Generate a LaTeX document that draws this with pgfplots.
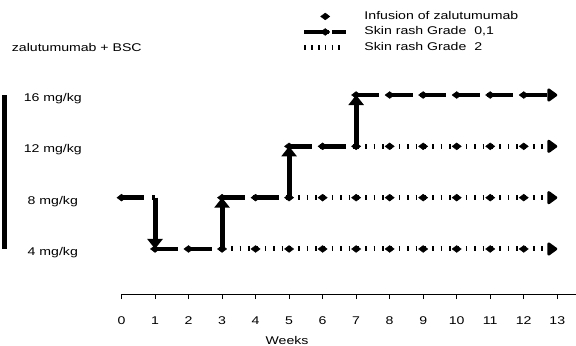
\documentclass[border=0pt]{standalone}
\usepackage{pgfplots}
\pgfplotsset{compat=1.18}
\usetikzlibrary{arrows.meta}
\usepackage{fontspec}
\setmainfont{Liberation Sans}[FakeStretch=1.26]
\begin{document}
\fontsize{11.2bp}{13.4bp}\selectfont
\begin{tikzpicture}
\begin{axis}[
  x=33.52bp, y=12.83bp,
  xmin=0, xmax=13.56, ymin=0.49, ymax=17,
  axis x line=bottom, axis y line=none,
  axis line style={-, line width=1bp, black},
  xtick={0,...,13}, ytick=\empty,
  tick align=outside, major tick length=5bp,
  tick style={line width=1bp, black},
  /pgf/number format/assume math mode=true,
  xticklabel style={anchor=base, yshift=-25bp},
  clip=false,
  legend cell align=left,
  legend style={draw=none, fill=none, inner sep=0pt, outer sep=0pt,
    at={(axis description cs:0.3971,1.3350)}, anchor=north west,
    row sep=5bp, column sep=16bp,
    nodes={inner sep=0pt, text height=8bp, text depth=2.5bp}},
]
% legend images
\addlegendimage{legend image code/.code={
  \begin{scope}[shift={(21bp,0bp)}, rotate=90]\pgfsetplotmarksize{4.6bp}\pgfuseplotmark{diamond*}\end{scope}}}
\addlegendentry{Infusion of zalutumumab}
\addlegendimage{legend image code/.code={
  \draw[line width=4.5bp, dash pattern=on 25bp off 3bp] (0bp,0bp) -- (42bp,0bp);
  \begin{scope}[shift={(21bp,0bp)}, rotate=90]\pgfsetplotmarksize{4.6bp}\pgfuseplotmark{diamond*}\end{scope}}}
\addlegendentry{Skin rash Grade~~0,1}
\addlegendimage{legend image code/.code={
  \draw[line width=5bp, dash pattern=on 1.6bp off 5.2bp] (0.25bp,0bp) -- (36bp,0bp);}}
\addlegendentry{Skin rash Grade~~2}

% dotted (Grade 2) lines
\addplot[forget plot, black, line width=5bp, dash pattern=on 1.6bp off 6.78bp, dash phase=7.58bp,
  -{Triangle[width=15bp,length=11bp,round]}] coordinates {(3,4) (13,4)};
\addplot[forget plot, black, line width=5bp, dash pattern=on 1.6bp off 6.78bp, dash phase=7.58bp,
  -{Triangle[width=15bp,length=11bp,round]}] coordinates {(5,8) (13,8)};
\addplot[forget plot, black, line width=5bp, dash pattern=on 1.6bp off 6.78bp, dash phase=7.58bp,
  -{Triangle[width=15bp,length=11bp,round]}] coordinates {(7,12) (13,12)};

% dashed (Grade 0,1) path
\addplot[forget plot, black, line width=4.5bp, dash pattern=on 26bp off 7.52bp, dash phase=3bp] coordinates {(0,8) (1,8)};
\addplot[forget plot, black, line width=4.5bp, dash pattern=on 26bp off 7.52bp, dash phase=3bp] coordinates {(1,4) (3,4)};
\addplot[forget plot, black, line width=4.5bp, dash pattern=on 26bp off 7.52bp, dash phase=3bp] coordinates {(3,8) (5,8)};
\addplot[forget plot, black, line width=4.5bp, dash pattern=on 26bp off 7.52bp, dash phase=3bp] coordinates {(5,12) (7,12)};
\addplot[forget plot, black, line width=4.5bp, dash pattern=on 26bp off 7.52bp, dash phase=3bp,
  -{Triangle[width=15bp,length=11bp,round]}] coordinates {(7,16) (13,16)};

% vertical dose changes
\addplot[forget plot, black, line width=5bp, -{Triangle[width=15bp,length=10bp]}] coordinates {(1,8) (1,4)};
\addplot[forget plot, black, line width=5bp, -{Triangle[width=15bp,length=10bp]}] coordinates {(3,4) (3,8)};
\addplot[forget plot, black, line width=5bp, -{Triangle[width=15bp,length=10bp]}] coordinates {(5,8) (5,12)};
\addplot[forget plot, black, line width=5bp, -{Triangle[width=15bp,length=10bp]}] coordinates {(7,12) (7,16)};

% infusions
\addplot[forget plot, only marks, mark=diamond*, mark size=4.6bp,
  mark options={rotate=90, draw=none, fill=black}] coordinates {
  (0,8) (1,4) (2,4) (3,4) (3,8) (4,8) (5,8) (5,12) (6,12) (7,12)
  (7,16) (8,16) (9,16) (10,16) (11,16) (12,16)
  (4,4) (5,4) (6,4) (7,4) (8,4) (9,4) (10,4) (11,4) (12,4)
  (6,8) (7,8) (8,8) (9,8) (10,8) (11,8) (12,8)
  (8,12) (9,12) (10,12) (11,12) (12,12)};

% left bar and texts
\draw[line width=5bp] (axis cs:-3.484,4) -- (axis cs:-3.484,16);
\node[anchor=base west, inner sep=0pt] at (axis cs:-3.276,19.43) {zalutumumab + BSC};
\node[anchor=base, inner sep=0pt] at (axis cs:-2.05,15.5) {16 mg/kg};
\node[anchor=base, inner sep=0pt] at (axis cs:-2.05,11.5) {12 mg/kg};
\node[anchor=base, inner sep=0pt] at (axis cs:-2.05,7.5) {8 mg/kg};
\node[anchor=base, inner sep=0pt] at (axis cs:-2.05,3.5) {4 mg/kg};
\node[anchor=base, inner sep=0pt] at (axis cs:4.94,-3.445) {Weeks};

\coordinate (bbl) at (axis cs:-3.6247,-3.562);
\coordinate (btr) at (axis cs:13.5591,23.406);
\end{axis}
\pgfresetboundingbox
\path[use as bounding box] (bbl) rectangle (btr);
\end{tikzpicture}
\end{document}
